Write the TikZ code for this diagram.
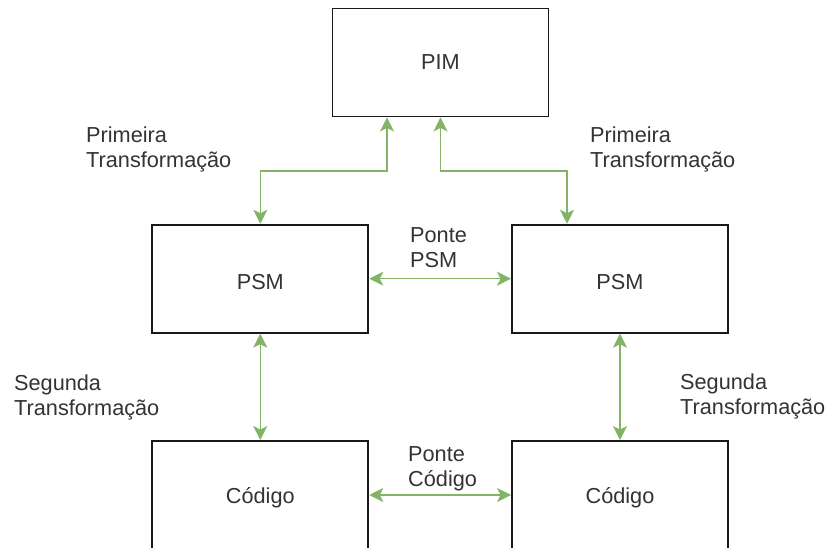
\documentclass[tikz,border=0pt]{standalone}
\usepackage{fontspec}
\setmainfont{Liberation Sans}
\usetikzlibrary{arrows.meta}
\definecolor{linkgreen}{HTML}{82B366}
\definecolor{textgray}{HTML}{333333}
\newcommand{\lowered}[1]{\raisebox{-3pt}[\height][\depth]{#1}}
\begin{document}
\begin{tikzpicture}[x=1pt,y=-1pt,
  model/.style={draw=black!90, line width=1.9pt, fill=white,
    minimum width=216pt, minimum height=108pt, inner sep=0pt,
    text=textgray, font=\fontsize{21.7}{25}\selectfont},
  lbl/.style={anchor=west, align=left, inner sep=0pt,
    text=textgray, font=\fontsize{21.7}{25}\selectfont},
  link/.style={draw=linkgreen, line width=1.5pt,
    arrows={Stealth[length=14pt,width=14pt,inset=3.5pt]-Stealth[length=14pt,width=14pt,inset=3.5pt]}}
]
\clip (0,0) rectangle (828,548);
\fill[white] (0,0) rectangle (828,548);

% model boxes
\node[model] (pim)  at (440.5,62.5)  {PIM};
\node[model] (psmL) at (260.3,278.7) {\lowered{PSM}};
\node[model] (psmR) at (620,278.7)   {\lowered{PSM}};
\node[model] (codL) at (260.3,495)   {\lowered{Código}};
\node[model] (codR) at (620,495)     {\lowered{Código}};

% bends of the two PIM connectors
\coordinate (bendL) at (387,171);
\coordinate (bendR) at (567,171);

% first transformation: PIM <-> PSM
\draw[link] (pim.south -| bendL) -- (bendL) -| (psmL.north);
\draw[link] (pim.south) |- (bendR) -- (psmR.north -| bendR);

% bridges
\draw[link] (psmL.east) -- (psmR.west);
\draw[link] (codL.east) -- (codR.west);

% second transformation: PSM <-> code
\draw[link] (psmL.south) -- (codL.north);
\draw[link] (psmR.south) -- (codR.north);

% labels
\node[lbl] (t1L) at (86,149.5)  {Primeira\\Transformação};
\node[lbl] (t1R) at (590,149.5) {Primeira\\Transformação};
\node[lbl] (bp)  at (410,248)   {Ponte\\PSM};
\node[lbl] (bc)  at (408,468.5) {Ponte\\Código};
\node[lbl] (t2L) at (14,397.5)  {Segunda\\Transformação};
\node[lbl] (t2R) at (680,396.5) {Segunda\\Transformação};
\end{tikzpicture}
\end{document}
